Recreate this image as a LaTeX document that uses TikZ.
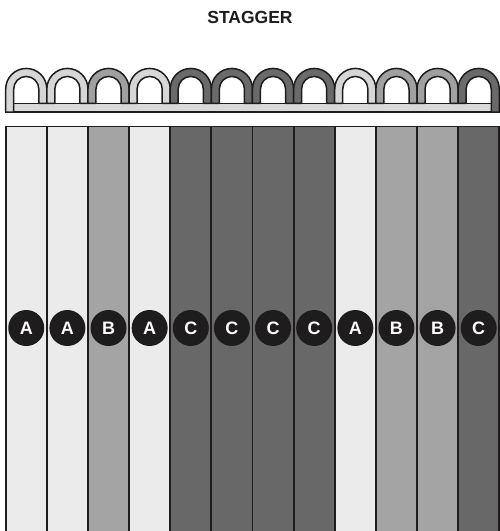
\documentclass[tikz,border=0pt]{standalone}
\usepackage{fontspec}
\setmainfont{Liberation Sans}
\definecolor{boardA}{HTML}{EBEBEB}
\definecolor{boardB}{HTML}{A4A4A4}
\definecolor{boardC}{HTML}{686868}
\definecolor{archA}{HTML}{D6D6D6}
\definecolor{archB}{HTML}{A0A0A0}
\definecolor{archC}{HTML}{6A6A6A}
\definecolor{railcol}{HTML}{D9D9D9}
\definecolor{ink}{HTML}{1E1C1D}
\tikzset{
  boardbox/.style={draw=ink, line width=1.8pt},
  archpart/.style={draw=ink, line width=1.5pt, line join=round},
  railbox/.style={draw=ink, line width=1.5pt, fill=railcol},
  lbl/.style={circle, fill=ink, minimum size=36pt, inner sep=0pt, text=white, font=\fontsize{18}{18}\selectfont\bfseries},
  titletext/.style={font=\fontsize{17.5}{17.5}\selectfont\bfseries, text=ink}
}
\begin{document}
\begin{tikzpicture}[x=1pt,y=-1pt]
\useasboundingbox (0,0) rectangle (500,531);
\clip (0,0) rectangle (500,531);
\node[titletext] (title) at (250,17) {STAGGER};
% boards
\foreach \i/\c in {0/A,1/A,2/B,3/A,4/C,5/C,6/C,7/C,8/A,9/B,10/B,11/C}{
  \pgfmathsetmacro\L{5.7+41.13*\i}
  \pgfmathsetmacro\R{\L+41.13}
  \path[boardbox, fill=board\c] (\L,126.5) rectangle (\R,545);
}
% rail
\path[railbox] (5.7,103.3) rectangle (499.3,112);
% arches
\foreach \i/\c in {0/A,1/A,2/B,3/A,4/C,5/C,6/C,7/C,8/A,9/B,10/B,11/C}{
  \pgfmathsetmacro\L{5.7+41.13*\i}
  \pgfmathsetmacro\R{\L+41.13}
  \pgfmathsetmacro\Li{\L+8}
  \pgfmathsetmacro\Ri{\R-8}
  \pgfmathsetmacro\yl{ifthenelse(\i==0,112,103.3)}
  \pgfmathsetmacro\yr{ifthenelse(\i==11,112,103.3)}
  \path[archpart, fill=arch\c] (\L,\yl) -- (\L,89)
     arc[start angle=180, end angle=360, radius=20.565]
     -- (\R,\yr) -- (\Ri,\yr) -- (\Ri,89)
     arc[start angle=360, end angle=180, radius=12.565]
     -- (\Li,\yl) -- cycle;
}
% labels
\foreach \i/\c in {0/A,1/A,2/B,3/A,4/C,5/C,6/C,7/C,8/A,9/B,10/B,11/C}{
  \pgfmathsetmacro\X{5.7+41.13*\i+20.565}
  \node[lbl] (lab\i) at (\X,328) {\c};
}
\end{tikzpicture}
\end{document}
